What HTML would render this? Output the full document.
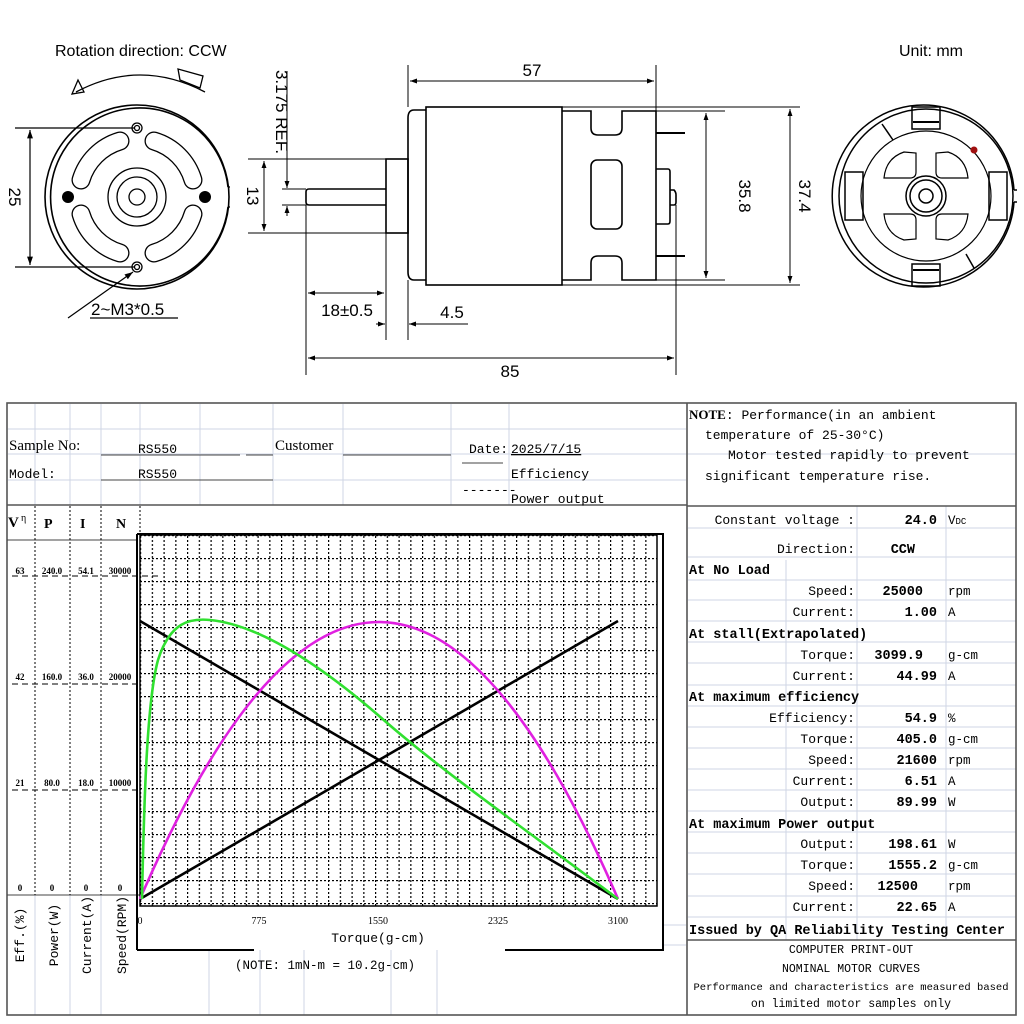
<!DOCTYPE html>
<html><head><meta charset="utf-8"><style>
html,body{margin:0;padding:0;background:#fff;}
svg{display:block}
.s{font-family:"Liberation Sans",sans-serif;}
.m{font-family:"Liberation Mono",monospace;}
.r{font-family:"Liberation Serif",serif;}
</style></head><body>
<svg width="1024" height="1024" viewBox="0 0 1024 1024" xmlns="http://www.w3.org/2000/svg">
<defs>
<marker id="a" viewBox="0 0 10 10" refX="10" refY="5" markerWidth="7" markerHeight="7" orient="auto-start-reverse"><path d="M0,1.5 L10,5 L0,8.5z" fill="#000"/></marker>
<pattern id="gv" x="140" y="0" width="11.75" height="4" patternUnits="userSpaceOnUse"><rect x="0" y="0" width="1.2" height="2" fill="#000"/></pattern>
<pattern id="gh" x="0" y="535" width="4" height="23" patternUnits="userSpaceOnUse"><rect x="0" y="0" width="2" height="1.2" fill="#000"/></pattern>
</defs>
<rect width="1024" height="1024" fill="#fff"/>

<g class="s" fill="#000" font-size="16">
<text x="55" y="56">Rotation direction: CCW</text>
<text x="899" y="56">Unit: mm</text>
</g>
<g fill="none" stroke="#000" stroke-width="1.3">
<path d="M76,92 Q140,58 205,92"/>
<path d="M72,94 L78,80 L84,92 z"/>
<path d="M178,69 L180,80 L200,88 L203,76 z"/>
<circle cx="137" cy="197" r="92" stroke-width="1.6"/>
<path d="M228,187 A89,89 0 1 0 228,207" stroke-width="1.6"/>
<line x1="228" y1="187" x2="230" y2="187"/><line x1="228" y1="207" x2="230" y2="207"/>
<circle cx="137" cy="197" r="29"/>
<circle cx="137" cy="197" r="20"/>
<circle cx="137" cy="197" r="8"/>
<circle cx="137" cy="128" r="5"/><circle cx="137" cy="128" r="2.5"/>
<circle cx="137" cy="267" r="5"/><circle cx="137" cy="267" r="2.5"/>
</g>
<g fill="none" stroke-linecap="round">
<g stroke="#000" stroke-width="19">
<path d="M154,141 A58,58 0 0 1 193,180"/>
<path d="M193,214 A58,58 0 0 1 154,253"/>
<path d="M120,253 A58,58 0 0 1 81,214"/>
<path d="M81,180 A58,58 0 0 1 120,141"/>
</g>
<g stroke="#fff" stroke-width="16.4">
<path d="M154,141 A58,58 0 0 1 193,180"/>
<path d="M193,214 A58,58 0 0 1 154,253"/>
<path d="M120,253 A58,58 0 0 1 81,214"/>
<path d="M81,180 A58,58 0 0 1 120,141"/>
</g>
</g>
<circle cx="68" cy="197" r="6" fill="#000"/>
<circle cx="205" cy="197" r="6" fill="#000"/>
<g fill="none" stroke="#000" stroke-width="1.2">
<line x1="15" y1="128" x2="134" y2="128"/>
<line x1="15" y1="267" x2="134" y2="267"/>
<line x1="30" y1="130" x2="30" y2="265" marker-start="url(#a)" marker-end="url(#a)"/>
<path d="M68,318 L133,272" marker-end="url(#a)"/>
<line x1="90" y1="318" x2="178" y2="318"/>
</g>
<text class="s" x="0" y="0" font-size="17" transform="translate(9,197) rotate(90)" text-anchor="middle">25</text>
<text class="s" x="91" y="315" font-size="17">2~M3*0.5</text>

<g fill="none" stroke="#000" stroke-width="1.6">
<rect x="426" y="107" width="136" height="178"/>
<path d="M426,110 L414,110 Q408,110 408,118 L408,272 Q408,280 414,280 L426,280"/>
<path d="M562,111 L591,111 L591,128 Q591,135 598,135 L615,135 Q622,135 622,128 L622,111 L656,111 L656,280 L622,280 L622,263 Q622,256 615,256 L598,256 Q591,256 591,263 L591,280 L562,280"/>
<rect x="591" y="160" width="31" height="69" rx="6"/>
<line x1="656" y1="133" x2="685" y2="133" stroke-width="2"/>
<line x1="656" y1="256" x2="685" y2="256" stroke-width="2"/>
<path d="M656,169 L668,169 Q670,169 670,172 L670,221 Q670,224 668,224 L656,224"/>
<path d="M670,190 L674,190 Q676,192 676,195 L676,202 Q676,205 674,205 L670,205"/>
<rect x="386" y="159" width="22" height="74"/>
<path d="M386,189 L309,189 Q306,189 306,192 L306,202 Q306,205 309,205 L386,205"/>
</g>
<g fill="none" stroke="#000" stroke-width="1">
<line x1="408" y1="65" x2="408" y2="107"/>
<line x1="656" y1="65" x2="656" y2="111"/>
<line x1="410" y1="81" x2="654" y2="81" marker-start="url(#a)" marker-end="url(#a)"/>
<line x1="248" y1="159" x2="386" y2="159"/>
<line x1="248" y1="233" x2="386" y2="233"/>
<line x1="264" y1="161" x2="264" y2="231" marker-start="url(#a)" marker-end="url(#a)"/>
<line x1="282" y1="189" x2="306" y2="189"/>
<line x1="282" y1="205" x2="306" y2="205"/>
<line x1="287" y1="71" x2="287" y2="188" marker-end="url(#a)"/>
<line x1="287" y1="216" x2="287" y2="206" marker-end="url(#a)"/>
<line x1="306" y1="205" x2="306" y2="375"/>
<line x1="386" y1="233" x2="386" y2="340"/>
<line x1="408" y1="280" x2="408" y2="340"/>
<line x1="308" y1="293" x2="384" y2="293" marker-start="url(#a)" marker-end="url(#a)"/>
<line x1="376" y1="324" x2="385" y2="324" marker-end="url(#a)"/>
<line x1="468" y1="324" x2="409" y2="324" marker-end="url(#a)"/>
<line x1="676" y1="205" x2="676" y2="375"/>
<line x1="308" y1="358" x2="674" y2="358" marker-start="url(#a)" marker-end="url(#a)"/>
<line x1="656" y1="111" x2="725" y2="111"/>
<line x1="656" y1="280" x2="725" y2="280"/>
<line x1="706" y1="113" x2="706" y2="278" marker-start="url(#a)" marker-end="url(#a)"/>
<line x1="562" y1="107" x2="800" y2="107"/>
<line x1="562" y1="285" x2="800" y2="285"/>
<line x1="790" y1="109" x2="790" y2="283" marker-start="url(#a)" marker-end="url(#a)"/>
</g>
<g class="s" font-size="17" fill="#000">
<text x="532" y="76" text-anchor="middle">57</text>
<text x="347" y="316" text-anchor="middle">18±0.5</text>
<text x="452" y="318" text-anchor="middle">4.5</text>
<text x="510" y="377" text-anchor="middle">85</text>
<text transform="translate(247,196) rotate(90)" text-anchor="middle">13</text>
<text transform="translate(276,112) rotate(90)" text-anchor="middle">3.175 REF.</text>
<text transform="translate(739,196) rotate(90)" text-anchor="middle">35.8</text>
<text transform="translate(799,196) rotate(90)" text-anchor="middle">37.4</text>
</g>

<g fill="none" stroke="#000" stroke-width="1.5">
<path d="M1014,190 A91,91 0 1 0 1014,202"/>
<line x1="1014" y1="190" x2="1017" y2="190"/><line x1="1014" y1="202" x2="1017" y2="202"/>
<circle cx="926" cy="196" r="87"/>
<circle cx="926" cy="196" r="65" stroke-width="1.2"/>
<circle cx="926" cy="196" r="20"/>
<circle cx="926" cy="196" r="16"/>
<circle cx="926" cy="196" r="7"/>
<rect x="912" y="107" width="28" height="22"/><line x1="913" y1="122" x2="939" y2="122" stroke-width="2"/>
<rect x="912" y="264" width="28" height="22"/><line x1="913" y1="270" x2="939" y2="270" stroke-width="2"/>
<rect x="845" y="172" width="18" height="48"/>
<rect x="989" y="172" width="18" height="48"/>
<line x1="882" y1="124" x2="893" y2="140"/>
<line x1="966" y1="254" x2="974" y2="268"/>
<g stroke-width="1.2">
<path d="M916,153 L916,172 Q916,178 910,178 L884,178 Q886,158 904,152 Z"/>
<path d="M936,153 L936,172 Q936,178 942,178 L968,178 Q966,158 948,152 Z"/>
<path d="M916,239 L916,220 Q916,214 910,214 L884,214 Q886,234 904,240 Z"/>
<path d="M936,239 L936,220 Q936,214 942,214 L968,214 Q966,234 948,240 Z"/>
</g>
</g>
<circle cx="974" cy="150" r="3.5" fill="#a01010"/>

<g stroke="#cfd6e4" stroke-width="1">
<line x1="8" y1="429" x2="686" y2="429"/>
<line x1="8" y1="454" x2="1016" y2="454"/>
<line x1="8" y1="480" x2="686" y2="480"/>
<line x1="35" y1="404" x2="35" y2="505"/>
<line x1="70" y1="404" x2="70" y2="505"/>
<line x1="101" y1="404" x2="101" y2="505"/>
<line x1="140" y1="404" x2="140" y2="505"/>
<line x1="200" y1="404" x2="200" y2="505"/>
<line x1="273" y1="404" x2="273" y2="505"/>
<line x1="343" y1="404" x2="343" y2="505"/>
<line x1="451" y1="404" x2="451" y2="505"/>
<line x1="509" y1="404" x2="509" y2="505"/>
<line x1="209" y1="950" x2="209" y2="1015"/>
<line x1="260" y1="950" x2="260" y2="1015"/>
<line x1="304" y1="950" x2="304" y2="1015"/>
<line x1="391" y1="950" x2="391" y2="1015"/>
<line x1="437" y1="950" x2="437" y2="1015"/>
<line x1="663" y1="925" x2="686" y2="925"/>
<line x1="663" y1="945" x2="686" y2="945"/>
<line x1="786" y1="560" x2="786" y2="940"/>
<line x1="857" y1="506" x2="857" y2="940"/>
<line x1="946" y1="506" x2="946" y2="940"/>
<line x1="688" y1="528" x2="1016" y2="528"/>
<line x1="688" y1="557" x2="1016" y2="557"/>
<line x1="688" y1="580" x2="1016" y2="580"/>
<line x1="688" y1="600" x2="1016" y2="600"/>
<line x1="688" y1="621" x2="1016" y2="621"/>
<line x1="688" y1="642" x2="1016" y2="642"/>
<line x1="688" y1="663" x2="1016" y2="663"/>
<line x1="688" y1="685" x2="1016" y2="685"/>
<line x1="688" y1="706" x2="1016" y2="706"/>
<line x1="688" y1="727" x2="1016" y2="727"/>
<line x1="688" y1="748" x2="1016" y2="748"/>
<line x1="688" y1="769" x2="1016" y2="769"/>
<line x1="688" y1="790" x2="1016" y2="790"/>
<line x1="688" y1="811" x2="1016" y2="811"/>
<line x1="688" y1="832" x2="1016" y2="832"/>
<line x1="688" y1="853" x2="1016" y2="853"/>
<line x1="688" y1="874" x2="1016" y2="874"/>
<line x1="688" y1="896" x2="1016" y2="896"/>
<line x1="688" y1="917" x2="1016" y2="917"/>
<line x1="35" y1="895" x2="35" y2="1015"/>
<line x1="70" y1="895" x2="70" y2="1015"/>
<line x1="101" y1="895" x2="101" y2="1015"/>
</g>
<g fill="none" stroke="#555" stroke-width="1.6">
<rect x="7" y="403" width="1009" height="612"/>
<line x1="687" y1="403" x2="687" y2="1015"/>
<line x1="7" y1="505" x2="687" y2="505"/>
<line x1="687" y1="506" x2="1016" y2="506"/>
<line x1="687" y1="940" x2="1016" y2="940"/>
</g>
<g stroke="#444" stroke-width="1">
<line x1="7" y1="540" x2="137" y2="540"/>
<line x1="7" y1="895" x2="140" y2="895"/>
</g>
<g stroke="#000" stroke-width="1" stroke-dasharray="2,2">
<line x1="35" y1="506" x2="35" y2="895"/>
<line x1="70" y1="506" x2="70" y2="895"/>
<line x1="101" y1="506" x2="101" y2="895"/>
<line x1="140" y1="506" x2="140" y2="534"/>
</g>
<g stroke="#000" stroke-width="1" stroke-dasharray="6,4">
<line x1="12" y1="576" x2="160" y2="576"/>
<line x1="12" y1="684" x2="140" y2="684"/>
<line x1="12" y1="790" x2="140" y2="790"/>
</g>

<g class="r" font-size="15" fill="#000">
<text x="9" y="450">Sample No:</text>
<text x="275" y="450">Customer</text>
</g>
<g class="m" font-size="13" fill="#000">
<text x="9" y="478">Model:</text>
<text x="138" y="453">RS550</text>
<text x="138" y="478">RS550</text>
<text x="469" y="453">Date:</text>
<text x="511" y="453" text-decoration="underline">2025/7/15</text>
<text x="511" y="478">Efficiency</text>
<text x="462" y="494">-------</text>
<text x="511" y="503">Power output</text>
</g>
<g stroke="#444" stroke-width="1">
<line x1="101" y1="455" x2="240" y2="455"/>
<line x1="246" y1="455" x2="273" y2="455"/>
<line x1="343" y1="455" x2="451" y2="455"/>
<line x1="101" y1="480" x2="273" y2="480"/>
<line x1="462" y1="463" x2="503" y2="463"/>
</g>
<g class="r" font-weight="bold" font-size="15" fill="#000">
<text x="8" y="527">V</text>
<text x="44" y="528" font-size="14">P</text>
<text x="80" y="528" font-size="14">I</text>
<text x="116" y="528" font-size="14">N</text>
</g>
<text class="r" x="21" y="521" font-size="10">η</text>

<g class="r" font-size="9" font-weight="bold" fill="#000" text-anchor="middle">
<text x="20" y="574">63</text><text x="52" y="574">240.0</text><text x="86" y="574">54.1</text><text x="120" y="574">30000</text>
<text x="20" y="680">42</text><text x="52" y="680">160.0</text><text x="86" y="680">36.0</text><text x="120" y="680">20000</text>
<text x="20" y="786">21</text><text x="52" y="786">80.0</text><text x="86" y="786">18.0</text><text x="120" y="786">10000</text>
<text x="20" y="891">0</text><text x="52" y="891">0</text><text x="86" y="891">0</text><text x="120" y="891">0</text>
</g>
<g class="m" font-size="13" fill="#000" text-anchor="middle">
<text transform="translate(24,935) rotate(-90)">Eff.(%)</text>
<text transform="translate(58,935) rotate(-90)">Power(W)</text>
<text transform="translate(91,935) rotate(-90)">Current(A)</text>
<text transform="translate(126,935) rotate(-90)">Speed(RPM)</text>
</g>

<rect x="140" y="535" width="517" height="371" fill="url(#gv)"/>
<rect x="140" y="535" width="517" height="371" fill="url(#gh)"/>
<rect x="140" y="535" width="517" height="371" fill="none" stroke="#000" stroke-width="1.5"/>
<path d="M137,534 L663,534 L663,950 L505,950 M254,950 L137,950 Z" fill="none" stroke="#000" stroke-width="2"/>
<line x1="137" y1="534" x2="137" y2="950" stroke="#000" stroke-width="2"/>
<g class="r" font-size="10" fill="#000" text-anchor="middle">
<text x="140" y="924">0</text><text x="259" y="924">775</text><text x="378" y="924">1550</text><text x="498" y="924">2325</text><text x="618" y="924">3100</text>
</g>
<text class="m" x="378" y="942" font-size="13" text-anchor="middle">Torque(g-cm)</text>
<text class="m" x="325" y="969" font-size="12.5" text-anchor="middle">(NOTE: 1mN-m = 10.2g-cm)</text>

<g fill="none" stroke-width="2.6" stroke-linejoin="round">
<path d="M140,621 L618,899" stroke="#000"/>
<path d="M140,899 L618,621" stroke="#000"/>
<path d="M140,899 Q379,345 618,899" stroke="#e020e0"/>
<path d="M142,899 C144,800 147,700 158,660 C170,622 190,618 210,620 C260,625 320,665 378,715 C440,770 520,825 618,899" stroke="#30e030"/>
</g>

<g class="m" font-size="13" fill="#000">
<text x="689" y="419"><tspan font-weight="bold" font-family="Liberation Serif">NOTE</tspan>:  Performance(in an ambient</text>
<text x="705" y="439">temperature of 25-30°C)</text>
<text x="728" y="459">Motor tested rapidly to prevent</text>
<text x="705" y="480">significant temperature rise.</text>
</g>
<g class="m" font-size="13" fill="#000" text-anchor="end">
<text x="855" y="524">Constant voltage :</text>
<text x="855" y="553">Direction:</text>
<text x="855" y="595">Speed:</text>
<text x="855" y="616">Current:</text>
<text x="855" y="659">Torque:</text>
<text x="855" y="680">Current:</text>
<text x="855" y="722">Efficiency:</text>
<text x="855" y="743">Torque:</text>
<text x="855" y="764">Speed:</text>
<text x="855" y="785">Current:</text>
<text x="855" y="806">Output:</text>
<text x="855" y="848">Output:</text>
<text x="855" y="869">Torque:</text>
<text x="855" y="890">Speed:</text>
<text x="855" y="911">Current:</text>
</g>
<g class="m" font-size="13.5" font-weight="bold" fill="#000" text-anchor="end">
<text x="937" y="524">24.0</text>
<text x="915" y="553">CCW</text>
<text x="923" y="595">25000</text>
<text x="937" y="616">1.00</text>
<text x="923" y="659">3099.9</text>
<text x="937" y="680">44.99</text>
<text x="937" y="722">54.9</text>
<text x="937" y="743">405.0</text>
<text x="937" y="764">21600</text>
<text x="937" y="785">6.51</text>
<text x="937" y="806">89.99</text>
<text x="937" y="848">198.61</text>
<text x="937" y="869">1555.2</text>
<text x="918" y="890">12500</text>
<text x="937" y="911">22.65</text>
</g>
<g class="m" font-size="12.5" fill="#000">
<text x="948" y="524">V<tspan font-size="9">DC</tspan></text>
<text x="948" y="595">rpm</text><text x="948" y="616">A</text>
<text x="948" y="659">g-cm</text><text x="948" y="680">A</text>
<text x="948" y="722">%</text><text x="948" y="743">g-cm</text><text x="948" y="764">rpm</text><text x="948" y="785">A</text><text x="948" y="806">W</text>
<text x="948" y="848">W</text><text x="948" y="869">g-cm</text><text x="948" y="890">rpm</text><text x="948" y="911">A</text>
</g>
<g class="m" font-size="13.5" font-weight="bold" fill="#000">
<text x="689" y="574">At No Load</text>
<text x="689" y="638">At stall(Extrapolated)</text>
<text x="689" y="701">At maximum efficiency</text>
<text x="689" y="828">At maximum Power output</text>
<text x="689" y="934">Issued by QA Reliability Testing Center</text>
</g>
<g class="m" font-size="11.5" fill="#000" text-anchor="middle">
<text x="851" y="953">COMPUTER PRINT-OUT</text>
<text x="851" y="972">NOMINAL MOTOR CURVES</text>
<text x="851" y="990" font-size="10.5">Performance and characteristics are measured based</text>
<text x="851" y="1007">on limited motor samples only</text>
</g>
</svg>
</body></html>
